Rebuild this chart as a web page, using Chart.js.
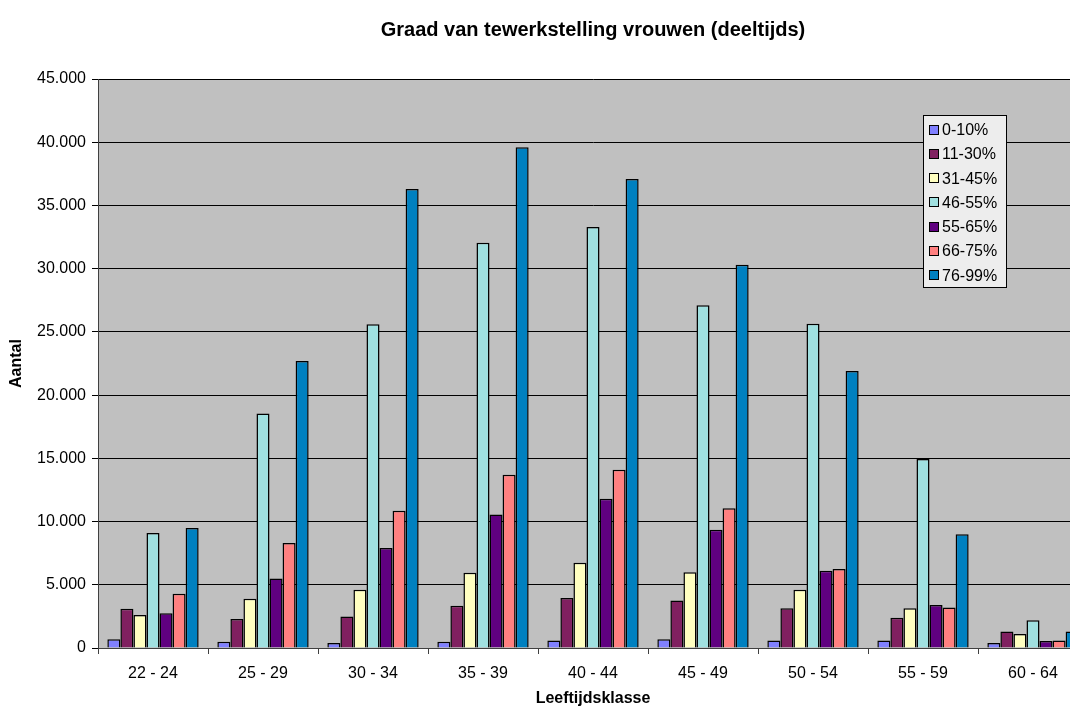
<!DOCTYPE html>
<html>
<head>
<meta charset="utf-8">
<script src="https://cdn.jsdelivr.net/npm/chart.js@4.4.1/dist/chart.umd.min.js"></script>
<style>
  html, body { margin: 0; padding: 0; background: #fff; overflow: hidden; }
  #wrap { width: 1100px; height: 707px; }
</style>
</head>
<body>
<div id="wrap"><canvas id="myChart" width="1100" height="707"></canvas></div>
<script>
// leeftijdsklassen
const categories = ['22 - 24', '25 - 29', '30 - 34', '35 - 39', '40 - 44', '45 - 49', '50 - 54', '55 - 59', '60 - 64'];
const seriesLabels = ['0-10%', '11-30%', '31-45%', '46-55%', '55-65%', '66-75%', '76-99%'];
const seriesColors = ['#8080FF', '#802060', '#FFFFC0', '#A0E0E0', '#600080', '#FF8080', '#0080C0'];

const p0_10  = [700, 500, 400, 500, 600, 700, 600, 600, 400];
const p11_30 = [3100, 2300, 2500, 3350, 3950, 3750, 3150, 2400, 1300];
const p31_45 = [2600, 3900, 4600, 5950, 6750, 6000, 4600, 3150, 1100];
const p46_55 = [9100, 18550, 25600, 32050, 33300, 27100, 25650, 14950, 2200];
const p55_65 = [2750, 5500, 7900, 10550, 11800, 9350, 6100, 3400, 550];
const p66_75 = [4300, 8300, 10850, 13700, 14100, 11050, 6250, 3200, 600];
const p76_99 = [9500, 22700, 36300, 39600, 37100, 30300, 21900, 9000, 1300];

const yTicks = [0, 5000, 10000, 15000, 20000, 25000, 30000, 35000, 40000, 45000];

const allSeries = [p0_10, p11_30, p31_45, p46_55, p55_65, p66_75, p76_99];

const FONT = 'Arial, "Liberation Sans", sans-serif';
const fmt = (v) => String(v).replace(/\B(?=(\d{3})+(?!\d))/g, '.');

// grijze achtergrond van het plotgebied
const plotBg = {
  id: 'plotBg',
  beforeDraw(chart) {
    const a = chart.chartArea, ctx = chart.ctx;
    ctx.save();
    ctx.fillStyle = '#C0C0C0';
    ctx.fillRect(a.left, a.top, a.right - a.left, a.bottom - a.top);
    ctx.restore();
  }
};

// legenda binnen het plotgebied, zoals in Excel
const boxLegend = {
  id: 'boxLegend',
  afterDraw(chart) {
    const ctx = chart.ctx;
    const x = 923, y = 115, w = 83, h = 172;
    ctx.save();
    ctx.fillStyle = '#EDEDED';
    ctx.fillRect(x, y, w, h);
    ctx.strokeStyle = '#000';
    ctx.lineWidth = 1;
    ctx.strokeRect(x + 0.5, y + 0.5, w, h);
    ctx.font = '16px ' + FONT;
    ctx.textBaseline = 'middle';
    chart.data.datasets.forEach((ds, i) => {
      const cy = 129.5 + i * 24.3;
      const sy = Math.round(cy - 5);
      ctx.fillStyle = ds.backgroundColor;
      ctx.fillRect(x + 6, sy, 9, 9);
      ctx.strokeStyle = '#000';
      ctx.strokeRect(x + 6.5, sy + 0.5, 9, 9);
      ctx.fillStyle = '#000';
      ctx.fillText(ds.label, x + 19, cy + 1);
    });
    ctx.restore();
  }
};

const datasets = seriesLabels.map((label, i) => ({
  label: label,
  data: allSeries[i],
  backgroundColor: seriesColors[i],
  borderColor: '#000',
  borderWidth: 1.5,
  categoryPercentage: 0.83,
  barPercentage: 1.0
}));

const ctx = document.getElementById('myChart').getContext('2d');
new Chart(ctx, {
  type: 'bar',
  data: { labels: categories, datasets: datasets },
  options: {
    responsive: false,
    animation: false,
    devicePixelRatio: 1,
    layout: { padding: { top: 0, right: 12, left: 0, bottom: 0 } },
    plugins: {
      legend: { display: false },
      tooltip: { enabled: false },
      title: {
        display: true,
        fullSize: false,
        text: 'Graad van tewerkstelling vrouwen (deeltijds)',
        color: '#000',
        font: { family: FONT, size: 20, weight: 'bold' },
        padding: { top: 18, bottom: 37 }
      }
    },
    scales: {
      x: {
        grid: { offset: true, drawOnChartArea: false, drawTicks: true, tickLength: 6, color: '#404040' },
        border: { color: '#404040', width: 1 },
        ticks: {
          color: '#000',
          padding: 10,
          maxRotation: 0,
          font: { family: FONT, size: 16 }
        },
        title: {
          display: true,
          text: 'Leeftijdsklasse',
          color: '#000',
          font: { family: FONT, size: 16, weight: 'bold', lineHeight: 1 },
          padding: { top: 0, bottom: 0 }
        },
        afterFit(scale) { scale.height = 59; }
      },
      y: {
        min: 0,
        max: 45000,
        afterBuildTicks(scale) { scale.ticks = yTicks.map(v => ({ value: v })); },
        grid: { color: '#000', lineWidth: 1, drawTicks: true, tickLength: 6 },
        border: { color: '#404040', width: 1 },
        ticks: {
          color: '#000',
          padding: 6,
          font: { family: FONT, size: 16 },
          callback: (v) => fmt(v)
        },
        title: {
          display: true,
          text: 'Aantal',
          color: '#000',
          font: { family: FONT, size: 16, weight: 'bold' },
          padding: { top: 7, bottom: 0 }
        },
        afterFit(scale) { scale.width = 98; }
      }
    }
  },
  plugins: [plotBg, boxLegend]
});
</script>
</body>
</html>
